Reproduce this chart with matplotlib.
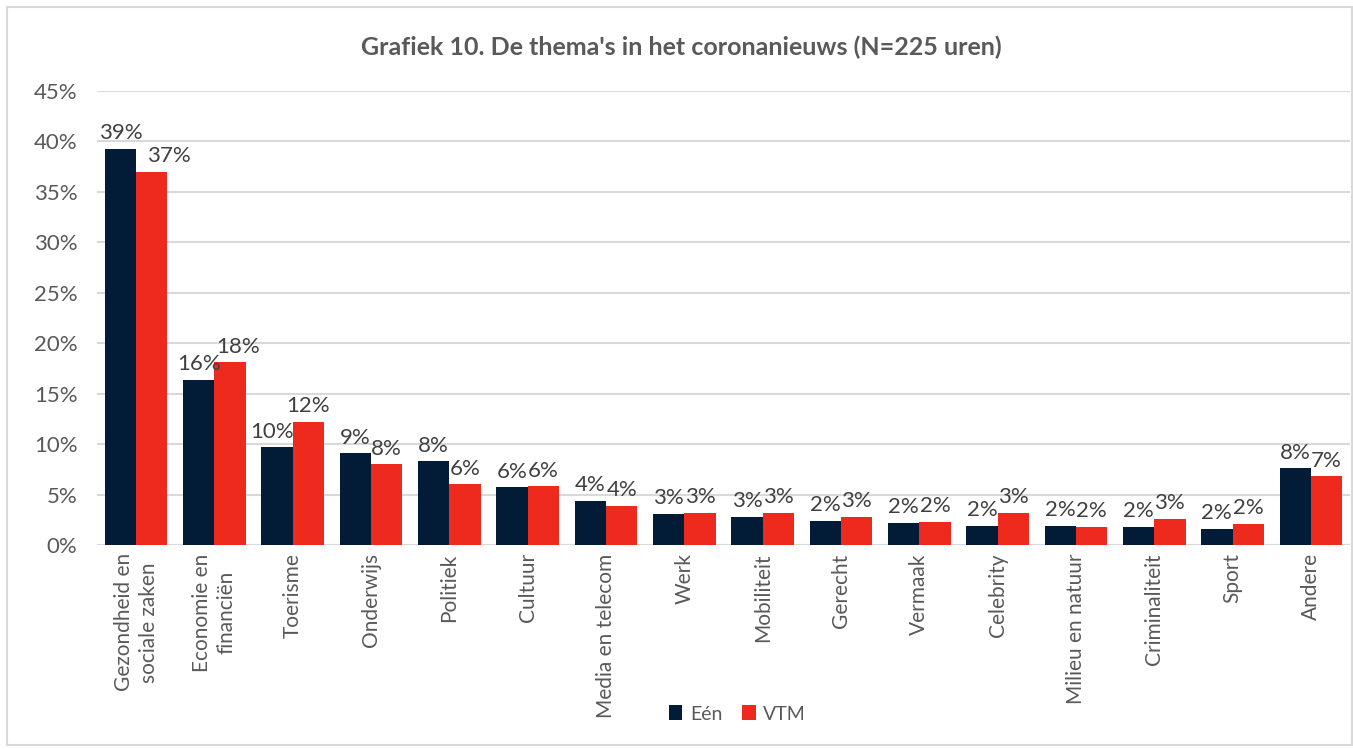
import matplotlib
matplotlib.use("Agg")
import matplotlib.pyplot as plt
import numpy as np
from matplotlib.patches import Rectangle

categories = ["Gezondheid en\nsociale zaken", "Economie en\nfinanciën", "Toerisme", "Onderwijs",
              "Politiek", "Cultuur", "Media en telecom", "Werk", "Mobiliteit", "Gerecht",
              "Vermaak", "Celebrity", "Milieu en natuur", "Criminaliteit", "Sport", "Andere"]
een = [39.3, 16.35, 9.7, 9.1, 8.3, 5.7, 4.4, 3.1, 2.8, 2.4, 2.2, 1.9, 1.9, 1.8, 1.6, 7.6]
vtm = [37.0, 18.1, 12.2, 8.0, 6.0, 5.8, 3.9, 3.2, 3.2, 2.8, 2.3, 3.2, 1.8, 2.6, 2.1, 6.8]
series_names = ["Eén", "VTM"]
yticks = [0, 5, 10, 15, 20, 25, 30, 35, 40, 45]
title = "Grafiek 10. De thema's in het coronanieuws (N=225 uren)"

c_een = "#021B36"
c_vtm = "#EE2A1E"
gray = "#595959"

# small horizontal nudges (points) for labels that would collide, as in the original
nudge = {(1, 0): 12, (1, 1): 6, (0, 2): -4}

fig = plt.figure(figsize=(13.53, 7.49), dpi=100)
ax = fig.add_axes([97/1353, 1-545/749, (1350-97)/1353, (545-91)/749])

x = np.arange(len(categories))
w = 0.4
b1 = ax.bar(x - w/2, een, w, color=c_een, label=series_names[0], zorder=3)
b2 = ax.bar(x + w/2, vtm, w, color=c_vtm, label=series_names[1], zorder=3)

for si, (bars, vals) in enumerate(((b1, een), (b2, vtm))):
    for ci, (rect, v) in enumerate(zip(bars, vals)):
        dx = nudge.get((si, ci), 0)
        ax.annotate(f"{int(v + 0.5)}%", (rect.get_x() + rect.get_width()/2, v),
                    xytext=(dx, 4), textcoords="offset points", ha="center", va="bottom",
                    fontsize=16, color="#404040", family="Lato")

ax.set_xlim(-0.5, len(categories) - 0.5)
ax.set_ylim(0, 45)
ax.set_yticks(yticks)
ax.set_yticklabels([f"{t}%" for t in yticks], fontsize=16, color=gray, family="Lato")
ax.set_xticks(x)
ax.set_xticklabels(categories, rotation=90, fontsize=15, color=gray, va="top", ha="center",
                   family="Lato", linespacing=1.3)
ax.tick_params(axis="both", length=0, pad=6)
ax.tick_params(axis="y", pad=14)
ax.grid(axis="y", color="#D9D9D9", linewidth=1.5, zorder=0)
for s in ax.spines.values():
    s.set_visible(False)
ax.axhline(0, color="#D9D9D9", linewidth=1.5, zorder=2)

fig.text(0.5 + 5/1353, 1-47/749, title, ha="center", va="center", fontsize=18, fontweight="bold",
         color=gray, family="Lato")

leg = fig.legend(handles=[b1, b2], labels=series_names, loc="center", bbox_to_anchor=(0.545, 1-714/749),
                 ncol=2, frameon=False, fontsize=14, handlelength=0.7, handleheight=0.8,
                 columnspacing=1.0, handletextpad=0.4)
for t in leg.get_texts():
    t.set_color(gray)
    t.set_family("Lato")

fig.patches.append(Rectangle((7/1353, 4/749), 1 - 8/1353, 1 - 11/749, transform=fig.transFigure,
                             fill=False, edgecolor="#D9D9D9", linewidth=1.5))

fig.savefig("out.png", dpi=100)
